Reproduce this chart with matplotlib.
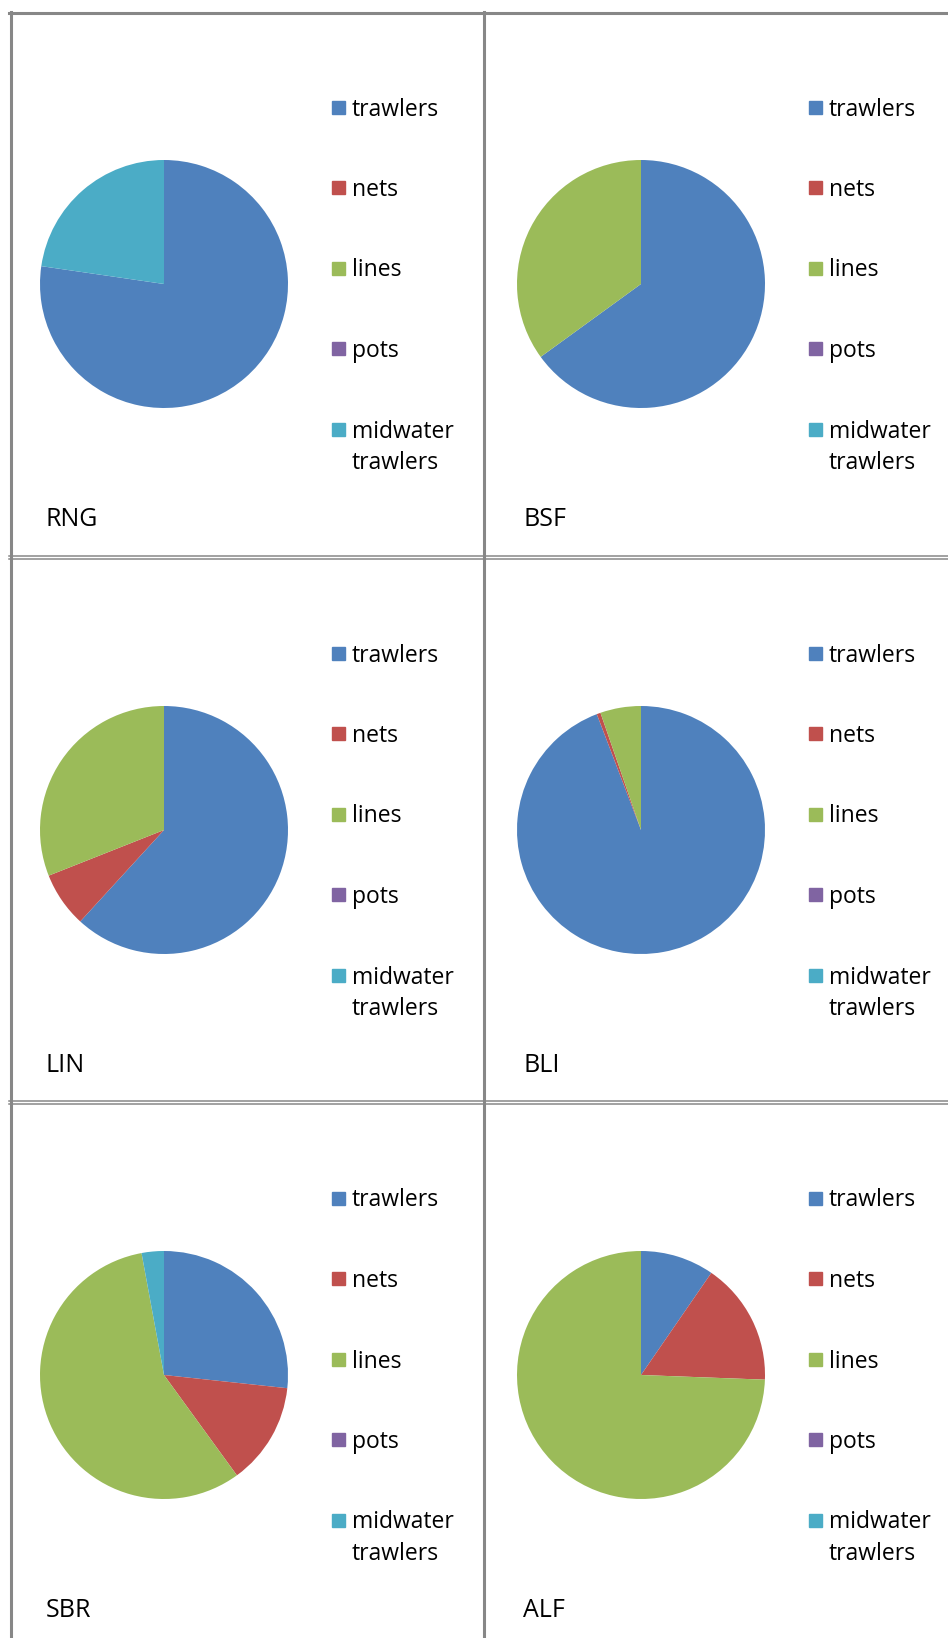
import matplotlib
matplotlib.use('Agg')
import matplotlib.pyplot as plt
from matplotlib import font_manager
from matplotlib.patches import Rectangle
from matplotlib.lines import Line2D

# species codes and gear types
species = ['RNG', 'BSF', 'LIN', 'BLI', 'SBR', 'ALF']
gears = ['trawlers', 'nets', 'lines', 'pots', 'midwater\ntrawlers']
colors = ['#4F81BD', '#C0504D', '#9BBB59', '#8064A2', '#4BACC6']

# share of catch per gear (%)
rng = [77.3, 0, 0, 0, 22.7]
bsf = [65.0, 0, 35.0, 0, 0]
lin = [61.8, 7.2, 31.0, 0, 0]
bli = [94.2, 0.5, 5.3, 0, 0]
sbr = [26.7, 13.3, 57.1, 0, 2.9]
alf = [9.6, 16.0, 74.4, 0, 0]
shares = [rng, bsf, lin, bli, sbr, alf]

avail = {f.name for f in font_manager.fontManager.ttflist}
font = 'DejaVu Sans'
for name in ['Open Sans', 'Lato']:
    if name in avail:
        font = name
        break
plt.rcParams['font.family'] = [font, 'DejaVu Sans']

W, H = 948, 1638
fig = plt.figure(figsize=(W / 100, H / 100), dpi=100)


def fx(x):
    return x / W


def fy(y):
    return 1 - y / H


col_x = [164, 641]
row_y = [284, 830, 1375]
r = 124
grey = '#878787'

for i, (name, vals) in enumerate(zip(species, shares)):
    cx = col_x[i % 2]
    cy = row_y[i // 2]
    ax = fig.add_axes([fx(cx - r), fy(cy + r), 2 * r / W, 2 * r / H])
    ax.pie(vals, colors=colors, startangle=90, counterclock=False,
           wedgeprops=dict(linewidth=0))
    ax.set_xlim(-1, 1)
    ax.set_ylim(-1, 1)
    ax.axis('off')

    # legend
    for j, (g, c) in enumerate(zip(gears, colors)):
        sy = cy - 177 + 80.5 * j
        sx = cx + 168
        fig.patches.append(Rectangle((fx(sx), fy(sy + 6.5)), 13 / W, 13 / H,
                                     transform=fig.transFigure, color=c))
        lines = g.split('\n')
        for k, t in enumerate(lines):
            fig.text(fx(sx + 20), fy(sy + 8.5 + 31.5 * k), t, fontsize=16.5,
                     va='baseline', ha='left', color='black')

    fig.text(fx(cx - 118), fy(cy + 242), name, fontsize=18,
             va='baseline', ha='left', color='black')

# cell borders
def hline(y, x0=9, x1=W, lw=2.2):
    fig.add_artist(Line2D([fx(x0), fx(x1)], [fy(y), fy(y)], color=grey,
                          lw=lw, transform=fig.transFigure))


def vline(x, y0=12, y1=H, lw=2.2):
    fig.add_artist(Line2D([fx(x), fx(x)], [fy(y0), fy(y1)], color=grey,
                          lw=lw, transform=fig.transFigure))


hline(13)
for y in [555.5, 558.5, 1101, 1104]:
    hline(y, lw=1.1)
vline(10.5)
vline(484.5)

fig.savefig('out.png', dpi=100)
